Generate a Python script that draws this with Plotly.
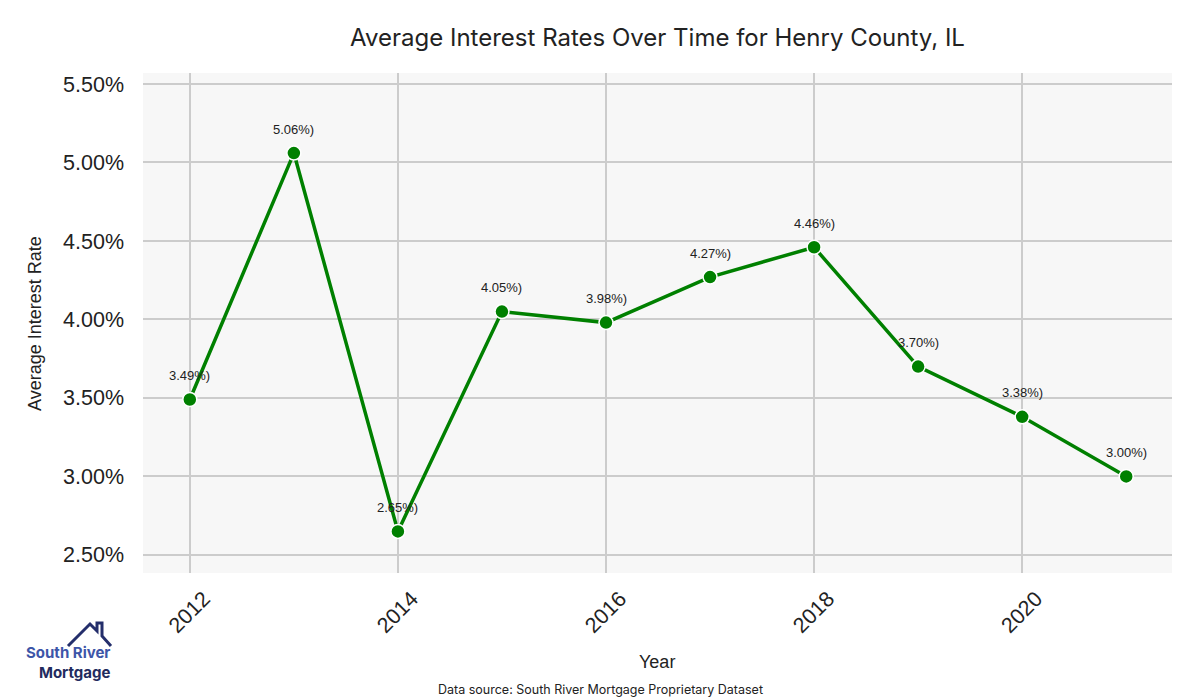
import plotly.graph_objects as go

years = [2012, 2013, 2014, 2015, 2016, 2017, 2018, 2019, 2020, 2021]
rates = [3.49, 5.06, 2.65, 4.05, 3.98, 4.27, 4.46, 3.70, 3.38, 3.00]
y_ticks = [2.5, 3.0, 3.5, 4.0, 4.5, 5.0, 5.5]
y_tick_labels = ["2.50%", "3.00%", "3.50%", "4.00%", "4.50%", "5.00%", "5.50%"]
x_ticks = [2012, 2014, 2016, 2018, 2020]

# page body has an 8px margin -> compensate
OFF = 8
W, H = 1192, 692
L, R, T, B = 143 - OFF, 28, 73 - OFF, 127
pw, ph = W - L - R, H - T - B
def px(x): return (x - OFF - L) / pw
def py(y): return (H - B - (y - OFF)) / ph

fig = go.Figure()
fig.add_trace(go.Scatter(
    x=years, y=rates, mode="lines+markers",
    line=dict(color="#008000", width=3.5),
    marker=dict(color="#008000", size=14, line=dict(color="white", width=1.5)),
    hoverinfo="x+y", showlegend=False,
))

for x, y in zip(years, rates):
    fig.add_annotation(x=x, y=y, text=f"{y:.2f}%)", showarrow=False,
                       yshift=24, font=dict(family="Liberation Sans, Arial", size=13, color="#222222"))

fig.update_layout(
    width=W, height=H,
    margin=dict(l=L, r=R, t=T, b=B, autoexpand=False),
    paper_bgcolor="white", plot_bgcolor="#f7f7f7",
    title=dict(text="Average Interest Rates Over Time for Henry County, IL",
               xref="paper", x=0.5, xanchor="center",
               yref="container", y=1 - (38 - OFF) / H, yanchor="middle",
               font=dict(family="Inter, Lato, sans-serif", size=24, color="#222222")),
    xaxis=dict(range=[2011.55, 2021.44], tickvals=x_ticks, ticktext=[str(t) for t in x_ticks],
               tickangle=-45, showgrid=True, gridcolor="#cccccc", gridwidth=2,
               zeroline=False, showline=False, automargin=False,
               ticklabelstandoff=8, ticklabelshift=14,
               tickfont=dict(family="Liberation Sans, Arial", size=21.5, color="#222222")),
    yaxis=dict(range=[2.385, 5.57], tickvals=y_ticks, ticktext=y_tick_labels,
               showgrid=True, gridcolor="#cccccc", gridwidth=2,
               zeroline=False, showline=False, ticks="", ticklen=0, automargin=False,
               ticklabelstandoff=18,
               tickfont=dict(family="Liberation Sans, Arial", size=21.5, color="#222222")),
)

# Axis titles
fig.add_annotation(xref="paper", yref="paper", x=px(657), y=py(662), xanchor="center", yanchor="middle",
                   text="Year", showarrow=False,
                   font=dict(family="Liberation Sans, Arial", size=18, color="#222222"))
fig.add_annotation(xref="paper", yref="paper", x=px(35), y=py(324), xanchor="center", yanchor="middle",
                   text="Average Interest Rate", showarrow=False, textangle=-90,
                   font=dict(family="Liberation Sans, Arial", size=18, color="#222222"))

# Data source note
fig.add_annotation(xref="paper", yref="paper", x=px(600), y=py(689), yanchor="middle", xanchor="center",
                   text="Data source: South River Mortgage Proprietary Dataset", showarrow=False,
                   font=dict(family="Inter, Lato, sans-serif", size=12.5, color="#222222"))

# Logo (house outline + text)
house = (f"M {px(68)},{py(646)} L {px(90)},{py(624)} L {px(97)},{py(631)} L {px(97)},{py(623)} "
         f"L {px(102)},{py(623)} L {px(102)},{py(636)} L {px(111)},{py(646)}")
fig.add_shape(type="path", xref="paper", yref="paper", path=house,
              line=dict(color="#242e6b", width=3))
fig.add_annotation(xref="paper", yref="paper", x=px(113), y=py(662), xanchor="right", yanchor="middle",
                   align="right", showarrow=False,
                   text="<b><span style='color:#3d55a8'>South River</span><br>"
                        "<span style='color:#222b5e'>Mortgage</span></b>",
                   font=dict(family="Inter, Lato, sans-serif", size=15, color="#222b5e"))

fig.write_html("out.html")
